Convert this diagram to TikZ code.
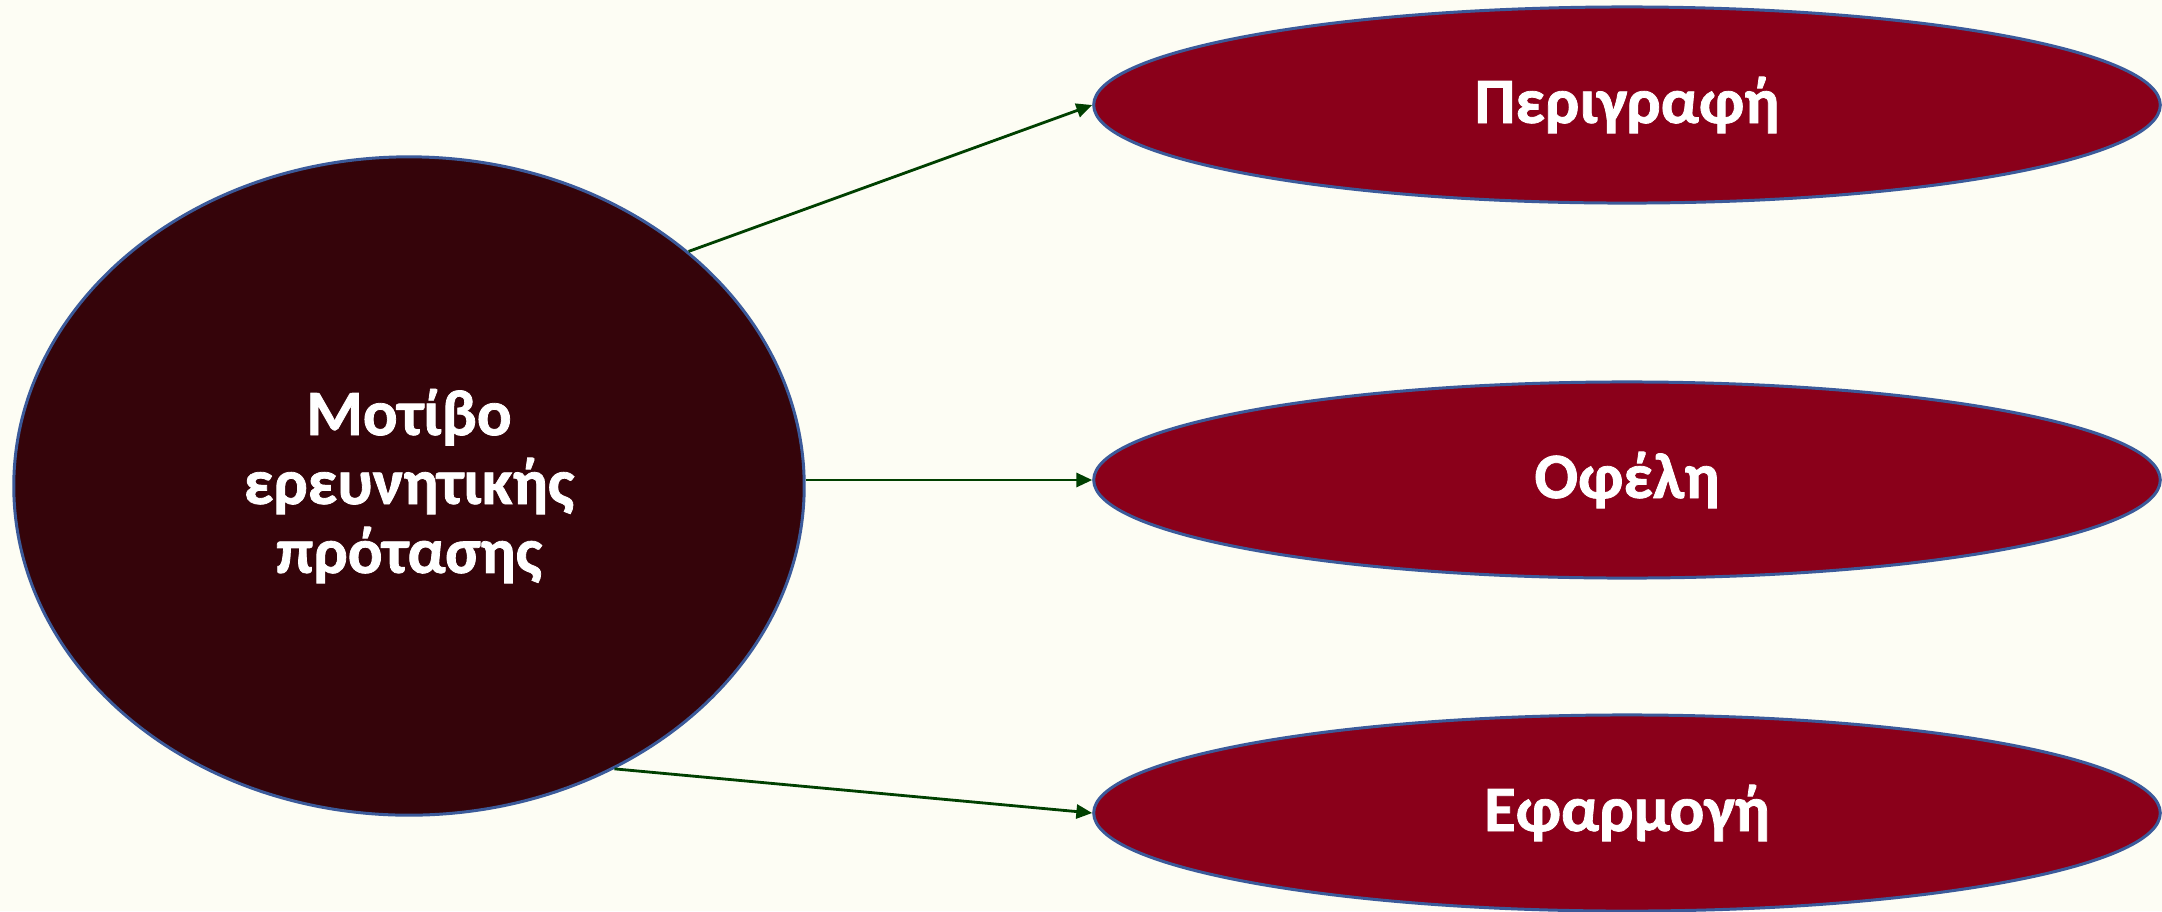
\documentclass[tikz,border=0pt]{standalone}
\usepackage{fontspec}
\setmainfont{Carlito}[BoldFeatures={FakeBold=1.2}]
\usepackage{tikz}
\usetikzlibrary{arrows.meta,shapes.geometric}
\definecolor{bgcol}{RGB}{253,253,244}
\definecolor{motivecol}{RGB}{53,4,10}
\definecolor{partcol}{RGB}{138,0,26}
\definecolor{rimcol}{RGB}{59,90,154}
\definecolor{arrcol}{RGB}{0,64,0}

\begin{document}
\begin{tikzpicture}[x=0.01cm,y=-0.01cm,
  blob/.style={ellipse,draw=rimcol,line width=0.85pt,inner sep=0pt,text=white,
    font=\fontsize{18.4}{19.6}\selectfont\bfseries,align=center},
  link/.style={draw=arrcol,line width=0.8pt,-{Triangle[length=4.5pt,width=4pt]}}]
\fill[bgcol] (0,0) rectangle (2162,911);
\useasboundingbox (0,0) rectangle (2162,911);
\node[blob,fill=motivecol,minimum width=7.9cm,minimum height=6.58cm] (motive) at (409,486)
  {Μοτίβο\\ ερευνητικής\\ πρότασης};
\node[blob,fill=partcol,minimum width=10.66cm,minimum height=1.96cm] (descr) at (1627,105) {Περιγραφή};
\node[blob,fill=partcol,minimum width=10.66cm,minimum height=1.96cm] (gain) at (1627,480) {Οφέλη};
\node[blob,fill=partcol,minimum width=10.66cm,minimum height=1.96cm] (apply) at (1627,813) {Εφαρμογή};
\draw[link] (motive.40) -- (descr.west);
\draw[link] (motive.east |- gain.west) -- (gain.west);
\draw[link] (motive.-54) -- (apply.west);
\end{tikzpicture}
\end{document}
